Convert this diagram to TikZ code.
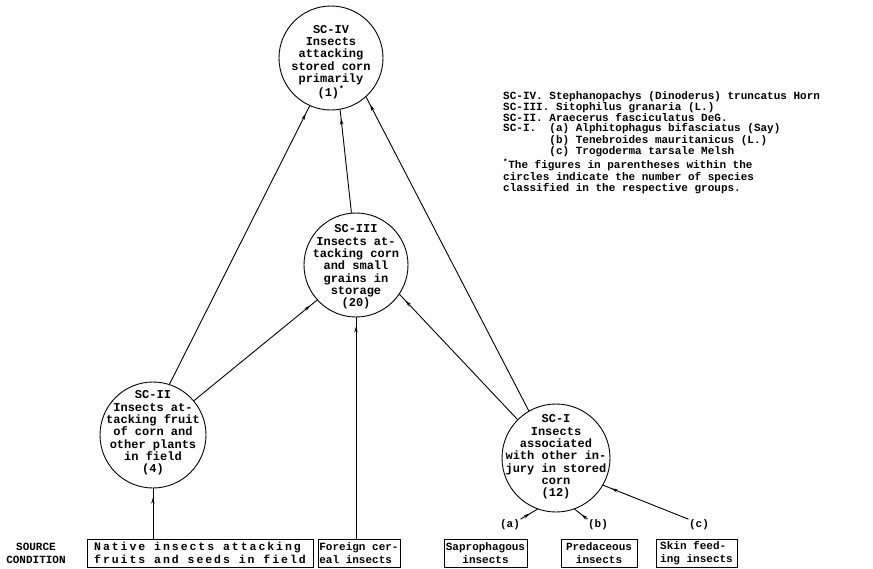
\documentclass[tikz,border=0pt]{standalone}
\usepackage{fontspec}
\setmonofont{Liberation Mono}
\usetikzlibrary{arrows.meta,decorations.markings}
\begin{document}
\begin{tikzpicture}[x=1pt,y=-1pt,
  circ/.style={draw, circle, minimum size=#1, inner sep=0pt, line width=0.9pt},
  ctext/.style={align=center, inner sep=0pt, font=\ttfamily\bfseries\fontsize{12}{12.3}\selectfont},
  srcbox/.style={draw, line width=0.9pt, inner sep=1pt, minimum height=28pt, font=\ttfamily\bfseries\fontsize{11}{12.5}\selectfont},
  lbl/.style={inner sep=0.5pt, font=\ttfamily\bfseries\fontsize{11}{12}\selectfont},
  flow/.style={line width=0.9pt, decoration={markings, mark=at position -9pt with {\arrow{Stealth[length=6pt,width=3.5pt]}}}, postaction={decorate}},
  legend/.style={align=left, anchor=north west, inner sep=0pt, font=\ttfamily\bfseries\fontsize{11}{10}\selectfont}]
\useasboundingbox (0,0) rectangle (873,568);

% circles
\node[circ=104pt] (sc4) at (331,58) {};
\node[ctext] (sc4t) at (331,62) {SC-IV\\Insects\\attacking\\stored corn\\primarily\\(1)\textsuperscript{*}};
\node[circ=104pt] (sc3) at (356,265) {};
\node[ctext] (sc3t) at (356,267) {SC-III\\Insects at-\\tacking corn\\and small\\grains in\\storage\\(20)};
\node[circ=106pt] (sc2) at (153,435) {};
\node[ctext] (sc2t) at (153,433) {SC-II\\Insects at-\\tacking fruit\\of corn and\\other plants\\in field\\(4)};
\node[circ=108pt] (sc1) at (556,458) {};
\node[ctext] (sc1t) at (556,457) {SC-I\\Insects\\associated\\with other in-\\jury in stored\\corn\\(12)};

% source boxes
\node[lbl, align=center, font=\ttfamily\bfseries\fontsize{11}{13}\selectfont] (srclab) at (36,553) {SOURCE\\CONDITION};
\node[srcbox, minimum width=226pt, align=left, font=\ttfamily\bfseries\fontsize{11.5}{13}\selectfont\addfontfeature{LetterSpace=17}] (b1) at (200,553) {Native insects attacking\\fruits and seeds in field};
\node[srcbox, minimum width=82pt, align=left] (b2) at (359,553) {Foreign cer-\\eal insects};
\node[srcbox, minimum width=83pt, align=center] (b3) at (485.5,553) {Saprophagous\\insects};
\node[srcbox, minimum width=76pt, align=center] (b4) at (599,553) {Predaceous\\insects};
\node[srcbox, minimum width=81pt, align=left] (b5) at (696.5,553) {Skin feed-\\ing insects};

\node[lbl] (la) at (510,525) {(a)};
\node[lbl] (lb) at (598,525) {(b)};
\node[lbl] (lc) at (699,525) {(c)};

% legend
\node[legend] (leg) at (503,91) {SC-IV. Stephanopachys (Dinoderus) truncatus Horn\\
SC-III. Sitophilus granaria (L.)\\
SC-II. Araecerus fasciculatus DeG.\\
SC-I.\ \ (a) Alphitophagus bifasciatus (Say)\\
\hphantom{SC-I.\ \ }(b) Tenebroides mauritanicus (L.)\\
\hphantom{SC-I.\ \ }(c) Trogoderma tarsale Melsh};
\node[legend] (note) at (503,159) {\textsuperscript{*}The figures in parentheses within the\\
circles indicate the number of species\\
classified in the respective groups.};

% connectors
\draw[flow] (sc2.south |- b1.north) -- (sc2.south);
\draw[flow] (sc3.south |- b2.north) -- (sc3.south);
\draw[flow] (sc2.40) -- (sc3.222);
\draw[flow] (sc2.72) -- (sc4.246);
\draw[flow] (sc3.95) -- (sc4.280);
\draw[flow] (sc1.135) -- (sc3.326);
\draw[flow] (sc1.120) -- (sc4.312);
\draw[flow] (la.north east) -- (sc1.250);
\draw[flow] (lb.north west) -- (sc1.290);
\draw[flow] (lc.north west) -- (sc1.330);
\end{tikzpicture}
\end{document}
